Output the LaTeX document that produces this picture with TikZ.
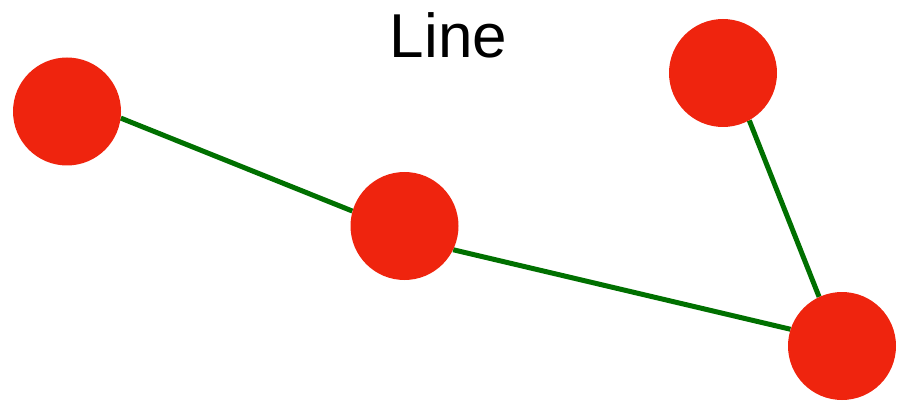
\documentclass[tikz,border=0pt]{standalone}
\usepackage{fontspec}
\setmainfont{Liberation Sans}
\usetikzlibrary{backgrounds}
\definecolor{dotred}{RGB}{239,36,14}
\definecolor{edgegreen}{RGB}{0,112,0}
\begin{document}
\begin{tikzpicture}[x=1pt,y=-1pt,
  dot/.style={circle,fill=dotred,minimum size=108pt,inner sep=0pt},
  edge/.style={draw=edgegreen,line width=5pt}]
\useasboundingbox (0,0) rectangle (897,401);
\node[anchor=base,font=\fontsize{62}{70}\selectfont] (title) at (448.5,57.5) {Line};
\node[dot] (a) at (67,111.5) {};
\node[dot] (b) at (404.5,226) {};
\node[dot] (c) at (723,73) {};
\node[dot] (d) at (842,346) {};
\begin{scope}[on background layer]
\draw[edge] (a.-7.6) -- (b.164.2);
\draw[edge] (b.-26.8) -- (d.162.4);
\draw[edge] (c.-61.2) -- (d.115.7);
\end{scope}
\end{tikzpicture}
\end{document}
